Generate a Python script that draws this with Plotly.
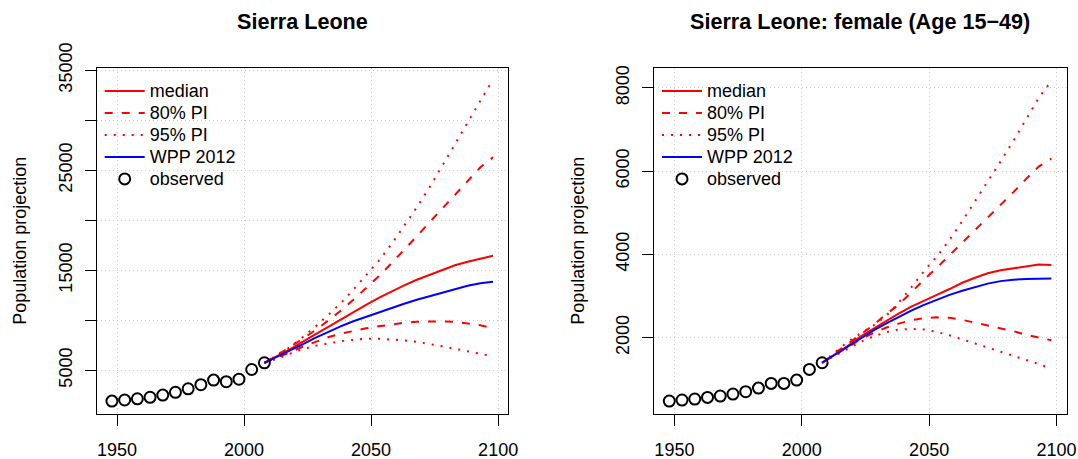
import plotly.graph_objects as go

# ---------------- data ----------------
obs_years = [1948, 1953, 1958, 1963, 1968, 1973, 1978, 1983, 1988, 1993, 1998, 2003, 2008]
proj_years = [2008, 2013, 2018, 2023, 2028, 2033, 2038, 2043, 2048, 2053,
              2058, 2063, 2068, 2073, 2078, 2083, 2088, 2093, 2098]

# Panel 1: Sierra Leone total population (thousands)
tot_observed = [1920, 2030, 2150, 2300, 2520, 2800, 3150, 3560, 4020, 3860, 4110, 5080, 5750]
tot_median = [5750, 6400, 7100, 7850, 8600, 9350, 10100, 10850, 11550, 12250,
              12900, 13500, 14050, 14550, 15050, 15500, 15850, 16150, 16450]
tot_wpp = [5750, 6350, 6950, 7600, 8250, 8850, 9400, 9900, 10350, 10800,
           11250, 11650, 12050, 12400, 12800, 13150, 13450, 13700, 13860]
tot_up80 = [5750, 6500, 7300, 8150, 9000, 9950, 10950, 12050, 13200, 14400,
            15700, 17000, 18400, 19800, 21200, 22600, 24000, 25300, 26300]
tot_lo80 = [5750, 6250, 6800, 7350, 7850, 8300, 8650, 8950, 9200, 9400,
            9600, 9750, 9850, 9900, 9900, 9850, 9700, 9500, 9200]
tot_up95 = [5750, 6550, 7300, 8300, 9350, 10500, 11700, 13050, 14450, 15950,
            17600, 19400, 21300, 23300, 25400, 27600, 29800, 32000, 34100]
tot_lo95 = [5750, 6150, 6650, 7100, 7450, 7700, 7900, 8050, 8150, 8150,
            8100, 8000, 7850, 7650, 7400, 7150, 6900, 6650, 6400]

# Panel 2: Sierra Leone female, age 15-49 (thousands)
fem_observed = [480, 504, 528, 568, 600, 648, 704, 792, 904, 904, 984, 1240, 1400]
fem_median = [1400, 1600, 1800, 2030, 2220, 2400, 2580, 2750, 2900, 3030,
              3170, 3320, 3440, 3550, 3620, 3670, 3710, 3760, 3750]
fem_wpp = [1400, 1590, 1780, 1990, 2170, 2340, 2500, 2650, 2790, 2910,
           3030, 3130, 3220, 3300, 3360, 3395, 3410, 3415, 3420]
fem_up80 = [1400, 1620, 1860, 2080, 2300, 2560, 2790, 3090, 3400, 3680,
            3980, 4290, 4580, 4880, 5180, 5490, 5810, 6110, 6300]
fem_lo80 = [1400, 1590, 1780, 1960, 2110, 2240, 2340, 2420, 2470, 2490,
            2480, 2430, 2360, 2290, 2220, 2160, 2070, 2000, 1940]
fem_up95 = [1400, 1650, 1900, 2100, 2290, 2520, 2840, 3210, 3600, 3950,
            4350, 4800, 5270, 5760, 6230, 6720, 7230, 7760, 8170]
fem_lo95 = [1400, 1570, 1740, 1900, 2030, 2130, 2200, 2210, 2200, 2140,
            2060, 1960, 1860, 1760, 1660, 1560, 1460, 1370, 1250]

x_ticks = [1950, 2000, 2050, 2100]
tot_yticks = [5000, 10000, 15000, 20000, 25000, 30000, 35000]
tot_yticktext = ["5000", "", "15000", "", "25000", "", "35000"]
fem_yticks = [2000, 4000, 6000, 8000]
fem_yticktext = ["2000", "4000", "6000", "8000"]

titles = ["Sierra Leone", "Sierra Leone: female (Age 15\u221249)"]
ytitle = "Population projection"
legend_names = ["median", "80% PI", "95% PI", "WPP 2012", "observed"]

# ---------------- figure ----------------
W, H = 1078, 459
FONT = "Liberation Sans, Arial, Helvetica, sans-serif"
RED = "#FF0000"
BLUE = "#0000FF"
DASH = "8px,9px"
DOT = "2px,7px"


def leg(name):
    # legend rows are spaced by the (smaller) legend font; text itself drawn at 18px
    return '<span style="font-size:18px">' + name + "</span>"


fig = go.Figure()

panels = [
    dict(xa="x", ya="y", leg="legend", obs=tot_observed, med=tot_median, wpp=tot_wpp,
         up80=tot_up80, lo80=tot_lo80, up95=tot_up95, lo95=tot_lo95),
    dict(xa="x2", ya="y2", leg="legend2", obs=fem_observed, med=fem_median, wpp=fem_wpp,
         up80=fem_up80, lo80=fem_lo80, up95=fem_up95, lo95=fem_lo95),
]

for p in panels:
    common = dict(xaxis=p["xa"], yaxis=p["ya"], legend=p["leg"], hoverinfo="skip")
    fig.add_trace(go.Scatter(x=proj_years, y=p["lo80"], mode="lines", showlegend=False,
                             line=dict(color=RED, width=2, dash=DASH), **common))
    fig.add_trace(go.Scatter(x=proj_years, y=p["lo95"], mode="lines", showlegend=False,
                             line=dict(color=RED, width=2, dash=DOT), **common))
    fig.add_trace(go.Scatter(x=proj_years, y=p["med"], mode="lines", name=leg(legend_names[0]),
                             line=dict(color=RED, width=2), **common))
    fig.add_trace(go.Scatter(x=proj_years, y=p["up80"], mode="lines", name=leg(legend_names[1]),
                             line=dict(color=RED, width=2, dash=DASH), **common))
    fig.add_trace(go.Scatter(x=proj_years, y=p["up95"], mode="lines", name=leg(legend_names[2]),
                             line=dict(color=RED, width=2, dash=DOT), **common))
    fig.add_trace(go.Scatter(x=proj_years, y=p["wpp"], mode="lines", name=leg(legend_names[3]),
                             line=dict(color=BLUE, width=2), **common))
    fig.add_trace(go.Scatter(x=obs_years, y=p["obs"], mode="markers", name=leg(legend_names[4]),
                             marker=dict(symbol="circle-open", size=11, color="black",
                                         line=dict(width=2, color="black")), **common))

# geometry (pixels)
L1, R1 = 96.7, 508.3
L2, R2 = 654.0, 1066.7
TOP, BOT = 67.5, 414.0

xdom1 = [L1 / W, R1 / W]
xdom2 = [L2 / W, R2 / W]
ydom = [1 - BOT / H, 1 - TOP / H]

axis_common = dict(
    showline=True, mirror=True, linecolor="black", linewidth=1,
    ticks="outside", ticklen=11, tickwidth=1, tickcolor="black",
    showgrid=True, gridcolor="#cccccc", griddash="1px,3px", gridwidth=1,
    zeroline=False, tickfont=dict(family=FONT, size=18, color="black"),
    fixedrange=True, automargin=False,
)

legend_common = dict(xanchor="left", yanchor="top", bgcolor="rgba(0,0,0,0)",
                     borderwidth=0, itemwidth=40, traceorder="normal",
                     font=dict(family=FONT, size=14.6, color="black"))

fig.update_layout(
    template="none",
    width=W, height=H,
    margin=dict(l=0, r=0, t=0, b=0, pad=0),
    paper_bgcolor="white", plot_bgcolor="white",
    font=dict(family=FONT, size=18, color="black"),
    xaxis=dict(domain=xdom1, range=[1942, 2104], tickvals=x_ticks, anchor="y",
               ticklabelstandoff=8, **axis_common),
    yaxis=dict(domain=ydom, range=[630, 35280], tickvals=tot_yticks, ticktext=tot_yticktext,
               tickangle=-90, anchor="x", ticklabelstandoff=6, **axis_common),
    xaxis2=dict(domain=xdom2, range=[1942, 2104], tickvals=x_ticks, anchor="y2",
                ticklabelstandoff=8, **axis_common),
    yaxis2=dict(domain=ydom, range=[169, 8490], tickvals=fem_yticks, ticktext=fem_yticktext,
                tickangle=-90, anchor="x2", ticklabelstandoff=6, **axis_common),
    legend=dict(x=(L1 + 3) / W, y=1 - 75 / H, **legend_common),
    legend2=dict(x=(L2 + 3) / W, y=1 - 75 / H, **legend_common),
    showlegend=True,
)

annotations = []
for (l, r), t in zip([(L1, R1), (L2, R2)], titles):
    annotations.append(dict(x=(l + r) / 2 / W, y=1 - 22 / H, xref="paper", yref="paper",
                            text="<b>" + t + "</b>", showarrow=False,
                            xanchor="center", yanchor="middle",
                            font=dict(family=FONT, size=21.6, color="black")))
for xc in [20, 578]:
    annotations.append(dict(x=xc / W, y=1 - (TOP + BOT) / 2 / H, xref="paper", yref="paper",
                            text=ytitle, showarrow=False, textangle=-90,
                            xanchor="center", yanchor="middle",
                            font=dict(family=FONT, size=18, color="black")))
fig.update_layout(annotations=annotations)

fig.write_html(
    "out.html",
    config={"displayModeBar": False, "staticPlot": True},
    post_script="document.body.style.margin='0';document.body.style.padding='0';"
                "document.body.style.overflow='hidden';",
)
